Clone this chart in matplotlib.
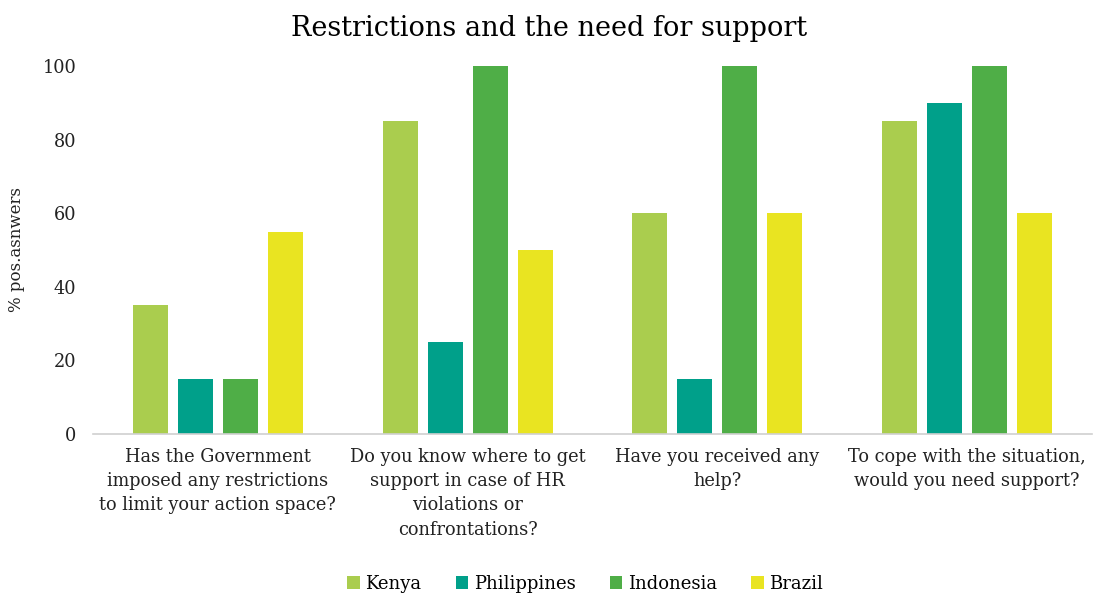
import numpy as np
import matplotlib.pyplot as plt

questions = [
    "Has the Government\nimposed any restrictions\nto limit your action space?",
    "Do you know where to get\nsupport in case of HR\nviolations or\nconfrontations?",
    "Have you received any\nhelp?",
    "To cope with the situation,\nwould you need support?",
]
countries = ["Kenya", "Philippines", "Indonesia", "Brazil"]
kenya = [35, 85, 60, 85]
philippines = [15, 25, 15, 90]
indonesia = [15, 100, 100, 100]
brazil = [55, 50, 60, 60]
colors = ["#AACD4E", "#00A08A", "#4FAE47", "#E9E421"]

plt.rcParams['font.family'] = ['DejaVu Serif']

fig = plt.figure(figsize=(10.98, 5.94), dpi=100)
ax = fig.add_axes([0.0847, 0.2694, 0.9098, 0.6195])

x = np.arange(len(questions))
width = 0.14
step = 0.18
series = [kenya, philippines, indonesia, brazil]
for i, (name, vals, c) in enumerate(zip(countries, series, colors)):
    ax.bar(x + (i - 1.5) * step, vals, width, color=c, label=name)

ax.set_xlim(-0.5, len(questions) - 0.5)
ax.set_ylim(0, 100)
ax.set_yticks(range(0, 101, 20))
ax.set_xticks(x)
ax.set_xticklabels(questions, fontsize=12.8, color="#222222", linespacing=1.45)
ax.tick_params(axis='y', labelsize=12.8, colors="#222222", length=0, pad=12)
ax.tick_params(axis='x', length=0, pad=10)
for s in ['top', 'right', 'left']:
    ax.spines[s].set_visible(False)
ax.spines['bottom'].set_color("#D0D0D0")
ax.spines['bottom'].set_linewidth(1.2)

ax.set_ylabel("% pos.asnwers", fontsize=12, color="#222222", labelpad=13)
fig.suptitle("Restrictions and the need for support", fontsize=19.5, y=0.975)

fig.legend(loc='lower center', ncol=4, frameon=False, fontsize=13,
           handlelength=0.7, handleheight=0.7, columnspacing=1.9,
           handletextpad=0.3, bbox_to_anchor=(0.533, -0.025))

fig.savefig("out.png", dpi=100)
